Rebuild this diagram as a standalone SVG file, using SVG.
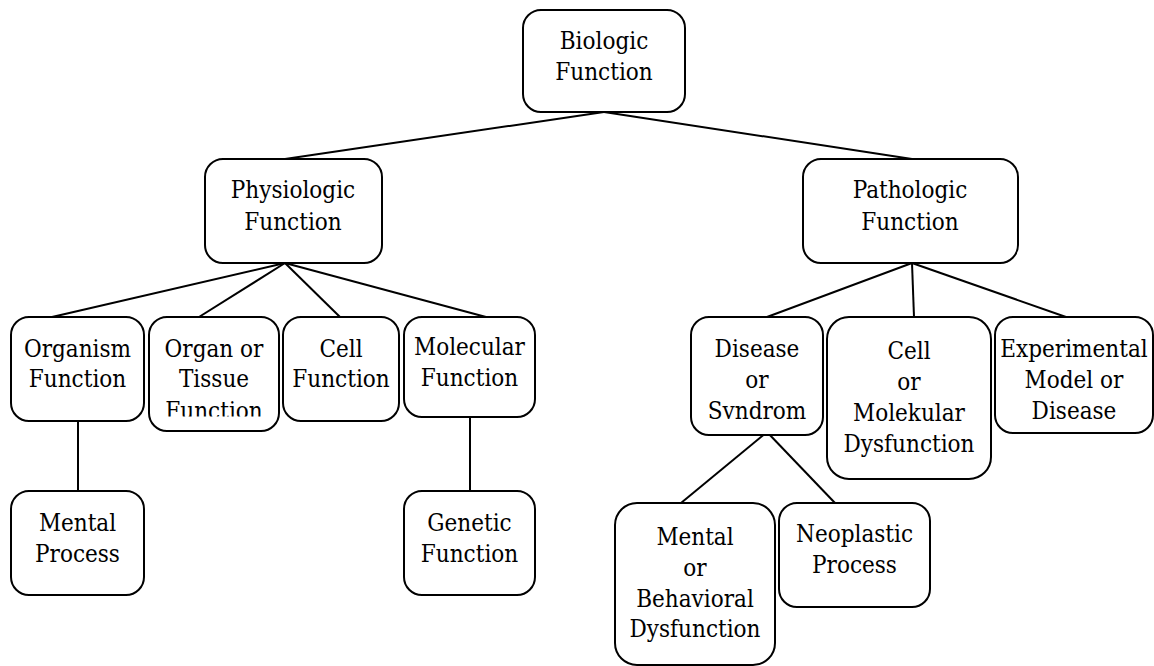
<svg xmlns="http://www.w3.org/2000/svg" width="1154" height="666" viewBox="0 0 1154 666" font-family="'DejaVu Serif Condensed', 'DejaVu Serif', serif">
<style>
.box{fill:#fff;stroke:#000;stroke-width:2}
.lbl{font-size:24px;fill:#000;text-anchor:middle}
.con{stroke:#000;stroke-width:2;fill:none}
</style>
<defs>
<clipPath id="clipOrgan"><rect x="149" y="317" width="130" height="99.5"/></clipPath>
<clipPath id="clipDisease"><rect x="690" y="317" width="133" height="102"/></clipPath>
</defs>
<rect width="1154" height="666" fill="#fff"/>
<g id="connectors">
<line class="con" x1="604" y1="112" x2="285" y2="159"/>
<line class="con" x1="604" y1="112" x2="912" y2="159"/>
<line class="con" x1="285" y1="263" x2="52" y2="317"/>
<line class="con" x1="285" y1="263" x2="199" y2="317"/>
<line class="con" x1="285" y1="263" x2="340" y2="317"/>
<line class="con" x1="285" y1="263" x2="486" y2="317"/>
<line class="con" x1="78" y1="421" x2="78" y2="491"/>
<line class="con" x1="470" y1="417" x2="470" y2="491"/>
<line class="con" x1="912" y1="263" x2="767" y2="317"/>
<line class="con" x1="912" y1="263" x2="914" y2="317"/>
<line class="con" x1="912" y1="263" x2="1066" y2="317"/>
<line class="con" x1="767" y1="432" x2="681" y2="503"/>
<line class="con" x1="767" y1="432" x2="835" y2="503"/>
</g>
<g id="biologic">
<rect class="box" x="523" y="10" width="162" height="102" rx="18"/>
<text class="lbl" x="604" y="49">Biologic</text>
<text class="lbl" x="604" y="80">Function</text>
</g>
<g id="physiologic">
<rect class="box" x="205" y="159" width="177" height="104" rx="18"/>
<text class="lbl" x="293" y="198">Physiologic</text>
<text class="lbl" x="293" y="230">Function</text>
</g>
<g id="pathologic">
<rect class="box" x="803" y="159" width="215" height="104" rx="18"/>
<text class="lbl" x="910" y="198">Pathologic</text>
<text class="lbl" x="910" y="230">Function</text>
</g>
<g id="organism">
<rect class="box" x="11" y="317" width="133" height="104" rx="18"/>
<text class="lbl" x="77.5" y="357">Organism</text>
<text class="lbl" x="77.5" y="387">Function</text>
</g>
<g id="organ">
<rect class="box" x="149" y="317" width="130" height="114" rx="18"/>
<g clip-path="url(#clipOrgan)">
<text class="lbl" x="214" y="357">Organ or</text>
<text class="lbl" x="214" y="387">Tissue</text>
<text class="lbl" x="214" y="419">Function</text>
</g>
</g>
<g id="cell">
<rect class="box" x="283" y="317" width="116" height="104" rx="18"/>
<text class="lbl" x="341" y="357">Cell</text>
<text class="lbl" x="341" y="387">Function</text>
</g>
<g id="molecular">
<rect class="box" x="404" y="317" width="131" height="100" rx="18"/>
<text class="lbl" x="469.5" y="355">Molecular</text>
<text class="lbl" x="469.5" y="386">Function</text>
</g>
<g id="mental-process">
<rect class="box" x="11" y="491" width="133" height="104" rx="18"/>
<text class="lbl" x="77.5" y="531">Mental</text>
<text class="lbl" x="77.5" y="562">Process</text>
</g>
<g id="genetic">
<rect class="box" x="404" y="491" width="131" height="104" rx="18"/>
<text class="lbl" x="469.5" y="531">Genetic</text>
<text class="lbl" x="469.5" y="562">Function</text>
</g>
<g id="disease">
<rect class="box" x="691" y="317" width="132" height="118" rx="18"/>
<g clip-path="url(#clipDisease)">
<text class="lbl" x="757" y="357">Disease</text>
<text class="lbl" x="757" y="388">or</text>
<text class="lbl" x="757" y="419">Syndrom</text>
</g>
</g>
<g id="cell-mol">
<rect class="box" x="827" y="317" width="164" height="162" rx="22"/>
<text class="lbl" x="909" y="359">Cell</text>
<text class="lbl" x="909" y="390">or</text>
<text class="lbl" x="909" y="421">Molekular</text>
<text class="lbl" x="909" y="452">Dysfunction</text>
</g>
<g id="experimental">
<rect class="box" x="995" y="317" width="158" height="116" rx="18"/>
<text class="lbl" x="1074" y="357">Experimental</text>
<text class="lbl" x="1074" y="388">Model or</text>
<text class="lbl" x="1074" y="419">Disease</text>
</g>
<g id="mental-behavioral">
<rect class="box" x="615" y="503" width="160" height="162" rx="22"/>
<text class="lbl" x="695" y="545">Mental</text>
<text class="lbl" x="695" y="576">or</text>
<text class="lbl" x="695" y="607">Behavioral</text>
<text class="lbl" x="695" y="637">Dysfunction</text>
</g>
<g id="neoplastic">
<rect class="box" x="779" y="503" width="151" height="104" rx="18"/>
<text class="lbl" x="854.5" y="542">Neoplastic</text>
<text class="lbl" x="854.5" y="573">Process</text>
</g>
</svg>
